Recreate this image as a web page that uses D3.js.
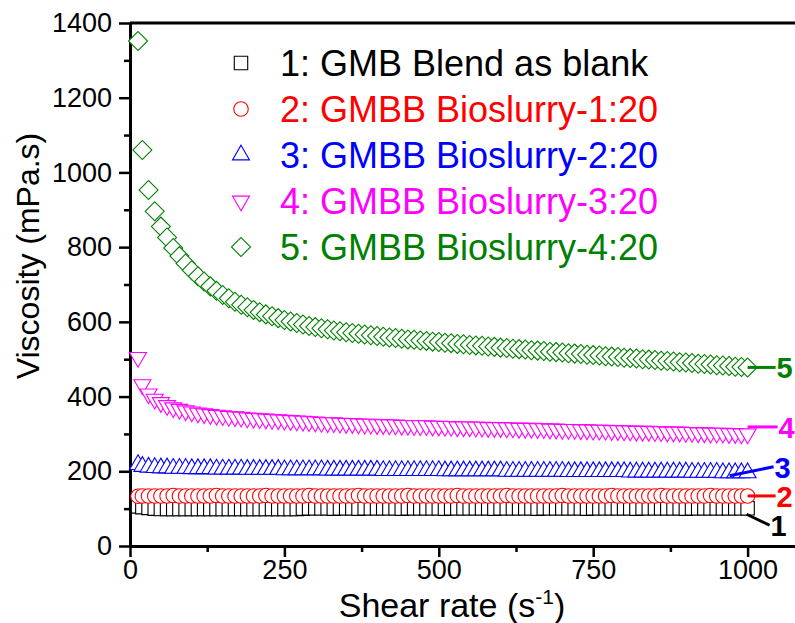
<!DOCTYPE html>
<html>
<head>
<meta charset="utf-8">
<script src="https://cdn.jsdelivr.net/npm/d3@7"></script>
<style>
  html, body { margin: 0; padding: 0; background: #fff; }
  svg { display: block; }
</style>
</head>
<body>
<div class="viscosity-chart"></div>
<script>
// shear rate (s-1)
const shearRate = [13, 20, 30, 40, 50, 60, 70, 80, 90, 100,
    110, 120, 130, 140, 150, 160, 170, 180, 190, 200,
    210, 220, 230, 240, 250, 260, 270, 280, 290, 300,
    310, 320, 330, 340, 350, 360, 370, 380, 390, 400,
    410, 420, 430, 440, 450, 460, 470, 480, 490, 500,
    510, 520, 530, 540, 550, 560, 570, 580, 590, 600,
    610, 620, 630, 640, 650, 660, 670, 680, 690, 700,
    710, 720, 730, 740, 750, 760, 770, 780, 790, 800,
    810, 820, 830, 840, 850, 860, 870, 880, 890, 900,
    910, 920, 930, 940, 950, 960, 970, 980, 990, 1000];

// viscosity (mPa.s)
const blank = [106, 104, 102, 100, 99, 99, 99, 99, 99, 99,
    99, 99, 99, 99, 99, 99, 99, 99, 99, 99,
    99, 99, 99, 99, 99, 99, 99, 100, 101, 101,
    101, 101, 100, 101, 101, 101, 100, 101, 101, 101,
    101, 101, 101, 100, 101, 101, 101, 101, 101, 101,
    100, 101, 101, 101, 101, 101, 101, 101, 100, 101,
    101, 101, 101, 101, 101, 100, 101, 101, 101, 101,
    101, 101, 101, 100, 101, 101, 101, 101, 101, 101,
    101, 100, 101, 101, 101, 101, 101, 101, 101, 100,
    101, 101, 101, 101, 101, 101, 101, 101, 101, 101];

const bioslurry1 = [133, 134, 134, 134, 134, 134, 135, 134, 134, 134,
    134, 134, 134, 135, 134, 134, 134, 134, 134, 134,
    134, 135, 134, 134, 134, 134, 134, 134, 135, 134,
    134, 134, 134, 134, 134, 134, 135, 134, 134, 134,
    134, 134, 134, 134, 135, 134, 134, 134, 134, 134,
    134, 134, 135, 134, 134, 134, 134, 134, 134, 134,
    135, 134, 134, 134, 134, 134, 134, 134, 134, 135,
    134, 134, 134, 134, 134, 134, 134, 135, 134, 134,
    134, 134, 134, 134, 134, 135, 134, 134, 134, 134,
    134, 134, 134, 135, 134, 134, 134, 134, 134, 134];

const bioslurry2 = [218, 213, 211, 210, 209, 209, 208, 208, 208, 207,
    207, 207, 207, 206, 206, 206, 206, 206, 205, 205,
    205, 205, 205, 205, 204, 204, 204, 204, 204, 204,
    204, 203, 203, 203, 203, 203, 203, 203, 203, 203,
    202, 202, 202, 202, 202, 202, 202, 202, 202, 202,
    201, 201, 201, 201, 201, 201, 201, 201, 201, 201,
    200, 200, 200, 200, 200, 200, 200, 200, 200, 200,
    199, 199, 199, 199, 199, 199, 199, 199, 199, 199,
    198, 198, 198, 198, 198, 198, 198, 198, 198, 198,
    197, 197, 197, 197, 197, 196, 196, 196, 196, 196];

const bioslurry3 = [505, 432, 407, 393, 384, 376, 370, 366, 362, 359,
    356, 354, 352, 350, 349, 347, 346, 345, 343, 342,
    341, 340, 339, 338, 337, 336, 335, 334, 333, 332,
    331, 330, 330, 329, 328, 328, 327, 326, 326, 325,
    325, 324, 324, 323, 323, 322, 322, 322, 321, 321,
    320, 320, 319, 319, 319, 318, 318, 317, 317, 317,
    316, 316, 315, 315, 315, 314, 314, 313, 313, 312,
    312, 312, 311, 311, 310, 310, 310, 309, 309, 308,
    308, 307, 307, 307, 306, 306, 305, 305, 305, 304,
    304, 303, 303, 302, 302, 302, 301, 301, 300, 300];

const bioslurry4 = [1352, 1060, 953, 896, 855, 826, 798, 776, 756, 738,
    722, 708, 695, 683, 672, 663, 654, 646, 639, 632,
    626, 620, 615, 610, 605, 601, 597, 593, 589, 586,
    583, 580, 577, 575, 572, 570, 568, 566, 564, 562,
    560, 558, 557, 555, 553, 552, 550, 549, 547, 546,
    544, 543, 541, 540, 538, 537, 536, 534, 533, 531,
    530, 528, 527, 526, 524, 523, 522, 520, 519, 518,
    516, 515, 514, 512, 511, 510, 508, 507, 506, 504,
    503, 502, 500, 499, 498, 496, 495, 494, 492, 491,
    490, 488, 487, 486, 484, 483, 482, 480, 479, 478];

const seriesNames = ["1: GMB Blend as blank", "2: GMBB Bioslurry-1:20", "3: GMBB Bioslurry-2:20",
    "4: GMBB Bioslurry-3:20", "5: GMBB Bioslurry-4:20"];
const endLabels = ["1", "2", "3", "4", "5"];

const xTicks = [0, 250, 500, 750, 1000];
const xMinorTicks = [125, 375, 625, 875];
const yTicks = [0, 200, 400, 600, 800, 1000, 1200, 1400];
const yMinorTicks = [100, 300, 500, 700, 900, 1100, 1300];

const width = 795;
const height = 623;
const font = "'Liberation Sans', Arial, sans-serif";

const colors = ["#000000", "#ff0000", "#0000ff", "#ff00ff", "#008000"];
const shapes = [
    {type: d3.symbolSquare, size: 180, rotate: 0},
    {type: d3.symbolCircle, size: 165, rotate: 0},
    {type: d3.symbolTriangle, size: 125, rotate: 0},
    {type: d3.symbolTriangle, size: 125, rotate: 180},
    {type: d3.symbolSquare, size: 180, rotate: 45}
];
// callout line from the last point to the end label: [startDx, startDy, endDx, endDy]
const callouts = [
    [-1, 6, 22, 17],
    [0, 0, 28, 0],
    [-18, 3, 26, -6],
    [0, -7, 30, -7],
    [0, 0, 28, 0]
];

const series = [blank, bioslurry1, bioslurry2, bioslurry3, bioslurry4];

const x = d3.scaleLinear()
    .domain([0, 1080])
    .range([130, 797]);

const y = d3.scaleLinear()
    .domain([0, 1400])
    .range([546, 23]);

const svg = d3.select(".viscosity-chart").append("svg")
    .attr("width", width)
    .attr("height", height)
    .attr("viewBox", `0 0 ${width} ${height}`);

// axes
const styleAxis = g => g
    .attr("font-family", font)
    .attr("font-size", 27)
    .call(g => g.select(".domain").attr("stroke-width", 3))
    .call(g => g.selectAll(".tick line").attr("stroke-width", 2.5))
    .call(g => g.selectAll(".tick text").attr("fill", "#000"));

svg.append("g")
    .attr("transform", `translate(0,${y(0)})`)
    .call(d3.axisBottom(x).tickValues(xMinorTicks).tickSize(6).tickSizeOuter(0).tickFormat(""))
    .call(styleAxis);

svg.append("g")
    .attr("transform", `translate(0,${y(0)})`)
    .call(d3.axisBottom(x).tickValues(xTicks).tickSize(11).tickSizeOuter(0).tickPadding(3).tickFormat(d3.format("d")))
    .call(styleAxis);

svg.append("g")
    .attr("transform", `translate(${x(0)},0)`)
    .call(d3.axisLeft(y).tickValues(yMinorTicks).tickSize(6).tickSizeOuter(0).tickFormat(""))
    .call(styleAxis);

svg.append("g")
    .attr("transform", `translate(${x(0)},0)`)
    .call(d3.axisLeft(y).tickValues(yTicks).tickSize(11).tickSizeOuter(0).tickPadding(7).tickFormat(d3.format("d")))
    .call(styleAxis);

// top frame
svg.append("line")
    .attr("x1", x(0))
    .attr("x2", width)
    .attr("y1", y(1400))
    .attr("y2", y(1400))
    .attr("stroke", "#000")
    .attr("stroke-width", 3);

// axis titles
svg.append("text")
    .attr("transform", `translate(39,256) rotate(-90)`)
    .attr("text-anchor", "middle")
    .attr("font-family", font)
    .attr("font-size", 32)
    .text("Viscosity (mPa.s)");

const xTitle = svg.append("text")
    .attr("x", 452)
    .attr("y", 617)
    .attr("text-anchor", "middle")
    .attr("font-family", font)
    .attr("font-size", 34);
xTitle.append("tspan").text("Shear rate (s");
xTitle.append("tspan").attr("dy", -13).attr("font-size", 21).text("-1");
xTitle.append("tspan").attr("dy", 13).text(")");

// data markers, later points on top of earlier ones
series.forEach((values, i) => {
    const symbol = d3.symbol().type(shapes[i].type).size(shapes[i].size);
    svg.append("g")
        .attr("class", `er-series-${i + 1}`)
        .selectAll("path")
        .data(values)
        .join("path")
        .attr("transform", (d, j) => `translate(${x(shearRate[j])},${y(d)}) rotate(${shapes[i].rotate})`)
        .attr("d", symbol)
        .attr("fill", "#fff")
        .attr("stroke", colors[i])
        .attr("stroke-width", 1.1);
});

// end labels
series.forEach((values, i) => {
    const lastX = x(shearRate[shearRate.length - 1]);
    const lastY = y(values[values.length - 1]);
    const c = callouts[i];
    svg.append("line")
        .attr("x1", lastX + c[0])
        .attr("y1", lastY + c[1])
        .attr("x2", lastX + c[2])
        .attr("y2", lastY + c[3])
        .attr("stroke", colors[i])
        .attr("stroke-width", 3);
    svg.append("text")
        .attr("x", lastX + c[2] + 1)
        .attr("y", lastY + c[3] + 11)
        .attr("font-family", font)
        .attr("font-size", 29)
        .attr("font-weight", "bold")
        .attr("fill", colors[i])
        .text(endLabels[i]);
});

// legend
const legend = svg.append("g")
    .attr("transform", "translate(241,63)");

seriesNames.forEach((name, i) => {
    const row = legend.append("g")
        .attr("transform", `translate(0,${i * 46})`);
    row.append("path")
        .attr("transform", `rotate(${shapes[i].rotate})`)
        .attr("d", d3.symbol().type(shapes[i].type).size(shapes[i].size)())
        .attr("fill", "#fff")
        .attr("stroke", colors[i])
        .attr("stroke-width", 1.1);
    row.append("text")
        .attr("x", 39)
        .attr("y", 13)
        .attr("font-family", font)
        .attr("font-size", 36)
        .attr("fill", colors[i])
        .text(name);
});
</script>
</body>
</html>
